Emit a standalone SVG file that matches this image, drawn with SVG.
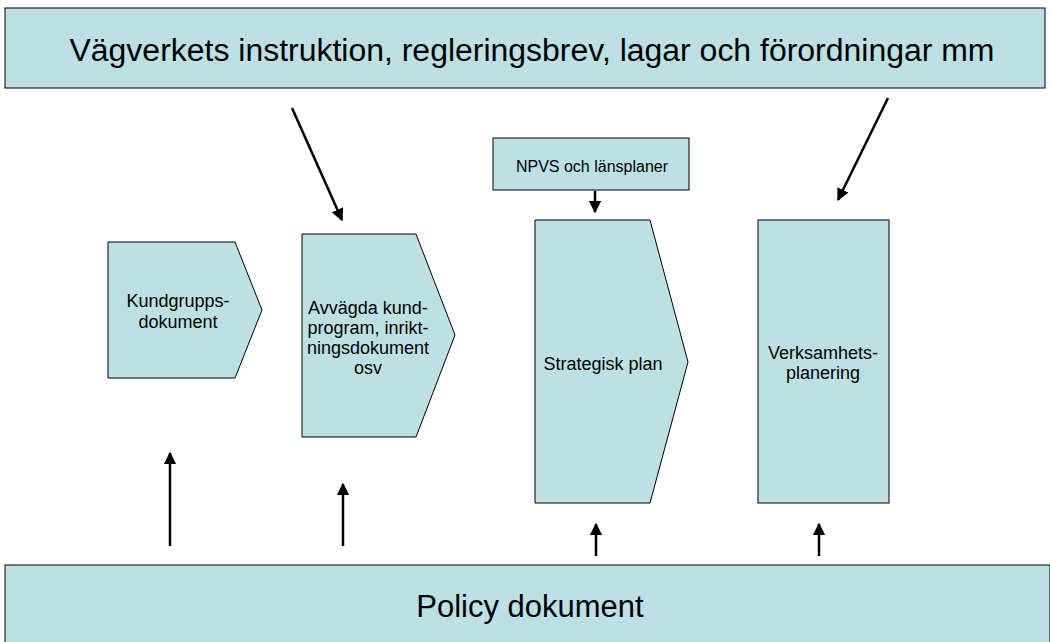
<svg xmlns="http://www.w3.org/2000/svg" width="1050" height="642" viewBox="0 0 1050 642">
<style>
.shape{fill:#BCE0E3;stroke:#000;stroke-width:1}
.big{font-family:"Liberation Sans",Arial,sans-serif;font-size:31px;fill:#000;text-anchor:middle}
.small{font-family:"Liberation Sans",Arial,sans-serif;font-size:18px;fill:#000;text-anchor:middle}
.npvs{font-size:16px}
.conn{stroke:#000;stroke-width:2.5;fill:none;marker-end:url(#ah)}
</style>
<defs>
<marker id="ah" viewBox="0 0 10 10" refX="9" refY="5" markerWidth="5" markerHeight="5" markerUnits="strokeWidth" orient="auto">
<path d="M0,0 L10,5 L0,10 Z" fill="#000"/>
</marker>
</defs>
<rect width="1050" height="642" fill="#fff"/>
<g id="top">
<rect class="shape" x="5" y="8" width="1040" height="80"/>
<text class="big" x="532" y="61" textLength="925" lengthAdjust="spacingAndGlyphs">Vägverkets instruktion, regleringsbrev, lagar och förordningar mm</text>
</g>
<g id="policy">
<rect class="shape" x="5" y="565" width="1045" height="80"/>
<text class="big" x="530" y="617">Policy dokument</text>
</g>
<g id="kundgrupps">
<path class="shape" d="M108,242 L235,242 L262,310 L235,378 L108,378 Z"/>
<text class="small" x="178" y="307">Kundgrupps-</text>
<text class="small" x="178" y="328">dokument</text>
</g>
<g id="avvagda">
<path class="shape" d="M302,234 L416,234 L455,335 L416,437 L302,437 Z"/>
<text class="small" x="368" y="314">Avvägda kund-</text>
<text class="small" x="368" y="334">program, inrikt-</text>
<text class="small" x="368" y="354">ningsdokument</text>
<text class="small" x="368" y="374">osv</text>
</g>
<g id="npvs">
<rect class="shape" x="493" y="138" width="196" height="52"/>
<text class="small npvs" x="592" y="172">NPVS och länsplaner</text>
</g>
<g id="strategisk">
<path class="shape" d="M535,220 L650,220 L688,362 L650,503 L535,503 Z"/>
<text class="small" x="603" y="370">Strategisk plan</text>
</g>
<g id="verksamhets">
<rect class="shape" x="758" y="220" width="131" height="283"/>
<text class="small" x="823" y="359">Verksamhets-</text>
<text class="small" x="823" y="379">planering</text>
</g>
<g id="connectors">
<line class="conn" x1="292" y1="108" x2="342" y2="220"/>
<line class="conn" x1="888" y1="98" x2="838" y2="200"/>
<line class="conn" x1="595" y1="191" x2="595" y2="212"/>
<line class="conn" x1="170" y1="546" x2="170" y2="453"/>
<line class="conn" x1="343" y1="546" x2="343" y2="484"/>
<line class="conn" x1="596" y1="556" x2="596" y2="524"/>
<line class="conn" x1="819" y1="556" x2="819" y2="524"/>
</g>
</svg>
